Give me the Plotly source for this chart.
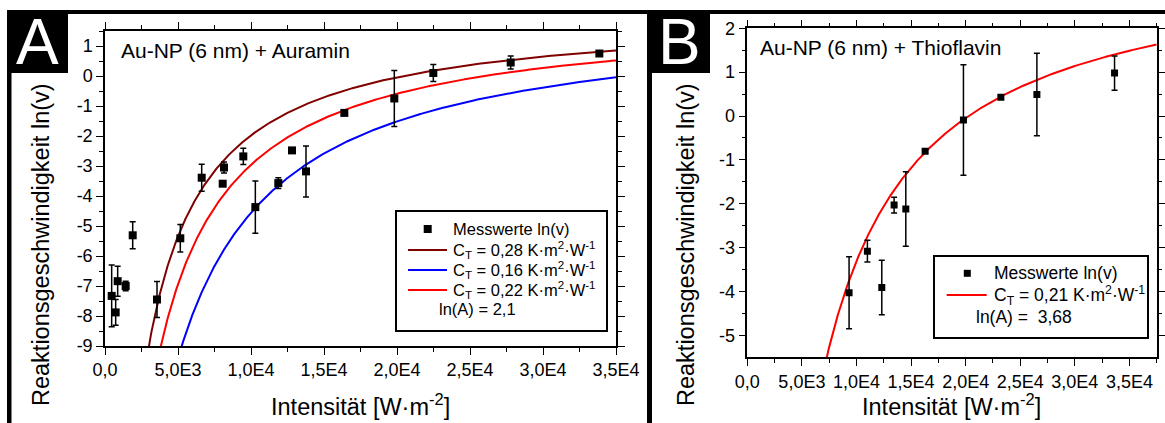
import numpy as np
import plotly.graph_objects as go

W, H = 1165, 423

# ---------------- data ----------------
# Panel A: Au-NP (6 nm) + Auramin
a_x = [457, 731, 868, 1416, 1897, 3562, 5158, 6623, 8061, 8151, 9473, 10297,
       11870, 12808, 13767, 16393, 19816, 22487, 27787, 33859]
a_y = [-7.33, -7.88, -6.84, -7.00, -5.31, -7.45, -5.41, -3.39, -3.59, -3.05, -2.68, -4.37,
       -3.57, -2.48, -3.18, -1.23, -0.75, 0.10, 0.45, 0.75]
a_err = [1.03, 0.43, 0.50, 0.16, 0.45, 0.60, 0.46, 0.45, 0.05, 0.18, 0.27, 0.87,
         0.18, 0.05, 0.85, 0.05, 0.93, 0.28, 0.22, 0.08]

# Panel B: Au-NP (6 nm) + Thioflavin
b_x = [9322, 11000, 12319, 13447, 14519, 16288, 19798, 23226, 26526, 33639]
b_y = [-4.03, -3.08, -3.91, -2.03, -2.12, -0.80, -0.09, 0.43, 0.49, 0.98]
b_err = [0.82, 0.25, 0.62, 0.18, 0.85, 0.05, 1.26, 0.05, 0.94, 0.39]

# fit parameters: ln v = ln(A) - E / (T0 + C_T * I)
T0 = 298.0
a_lnA = 2.1
a_E = 12637.0
a_CT = [0.28, 0.16, 0.22]
a_colors = ["#800000", "#0000FF", "#FF0000"]
a_labels = ["0,28", "0,16", "0,22"]

b_lnA = 3.68
b_E = 16755.0
b_CT = 0.21

x_tickvals = [0, 5000, 10000, 15000, 20000, 25000, 30000, 35000]
x_ticktext = ["0,0", "5,0E3", "1,0E4", "1,5E4", "2,0E4", "2,5E4", "3,0E4", "3,5E4"]
a_ytickvals = list(range(-9, 2))
b_ytickvals = list(range(-5, 3))

FONT = "Arial, Liberation Sans, sans-serif"


def px(x):
    return x / W


def py(y):
    return 1 - y / H


fig = go.Figure()

# ---- Panel A curves ----
ia = np.linspace(0, 35000, 1200)
for ct, col in zip(a_CT, a_colors):
    fig.add_trace(go.Scatter(x=ia, y=a_lnA - a_E / (T0 + ct * ia), mode="lines",
                             line=dict(color=col, width=2), xaxis="x", yaxis="y",
                             hoverinfo="skip"))
fig.add_trace(go.Scatter(x=a_x, y=a_y, mode="markers",
                         marker=dict(symbol="square", size=8, color="black"),
                         error_y=dict(type="data", array=a_err, visible=True,
                                      color="black", thickness=1.5, width=3),
                         xaxis="x", yaxis="y"))

# ---- Panel B ----
ib = np.linspace(0, 37500, 1200)
fig.add_trace(go.Scatter(x=ib, y=b_lnA - b_E / (T0 + b_CT * ib), mode="lines",
                         line=dict(color="#FF0000", width=2), xaxis="x2", yaxis="y2",
                         hoverinfo="skip"))
fig.add_trace(go.Scatter(x=b_x, y=b_y, mode="markers",
                         marker=dict(symbol="square", size=7, color="black"),
                         error_y=dict(type="data", array=b_err, visible=True,
                                      color="black", thickness=1.5, width=3),
                         xaxis="x2", yaxis="y2"))

axis_common = dict(showline=True, linecolor="black", linewidth=1.5, mirror="ticks",
                   ticks="outside", ticklen=7, tickwidth=1.3, tickcolor="black",
                   showgrid=False, zeroline=False, automargin=False,
                   tickfont=dict(family=FONT, size=18, color="black"))

fig.update_layout(
    width=W, height=H, margin=dict(l=0, r=0, t=0, b=0, pad=0),
    paper_bgcolor="white", plot_bgcolor="white", showlegend=False,
    xaxis=dict(domain=[px(105), px(616)], range=[0, 35000], anchor="y",
               tickmode="array", tickvals=x_tickvals, ticktext=x_ticktext,
               minor=dict(tickvals=[2500 + 5000 * k for k in range(7)], ticklen=4,
                          ticks="outside", tickcolor="black", tickwidth=1.3),
               **axis_common),
    yaxis=dict(domain=[py(346), py(31)], range=[-9, 1.5], anchor="x",
               tickmode="array", tickvals=a_ytickvals,
               ticktext=[str(v) for v in a_ytickvals],
               minor=dict(tickvals=[v + 0.5 for v in range(-9, 2)], ticklen=4,
                          ticks="outside", tickcolor="black", tickwidth=1.3),
               **axis_common),
    xaxis2=dict(domain=[px(747.3), px(1156.7)], range=[0, 37500], anchor="y2",
                tickmode="array", tickvals=x_tickvals, ticktext=x_ticktext,
                minor=dict(tickvals=[2500 + 5000 * k for k in range(8)], ticklen=4,
                           ticks="outside", tickcolor="black", tickwidth=1.3),
                **axis_common),
    yaxis2=dict(domain=[py(357.3), py(28.3)], range=[-5.5, 2], anchor="x2",
                tickmode="array", tickvals=b_ytickvals,
                ticktext=[str(v) for v in b_ytickvals],
                minor=dict(tickvals=[v + 0.5 for v in range(-5, 2)], ticklen=4,
                           ticks="outside", tickcolor="black", tickwidth=1.3),
                **axis_common),
)

shapes = []


def rect(x0, y0, x1, y1, fill="black", line_w=0, line_c="black", layer="above"):
    shapes.append(dict(type="rect", xref="paper", yref="paper",
                       x0=px(x0), x1=px(x1), y0=py(y1), y1=py(y0),
                       fillcolor=fill, line=dict(width=line_w, color=line_c),
                       layer=layer))


def hline(x0, x1, y, color, width=2):
    shapes.append(dict(type="line", xref="paper", yref="paper",
                       x0=px(x0), x1=px(x1), y0=py(y), y1=py(y),
                       line=dict(color=color, width=width), layer="above"))


# frame
rect(7, 10, 1165, 14)
rect(7, 10, 68, 73)
rect(7, 10, 11.5, 423)
rect(647, 10, 710, 73)
rect(647, 10, 652, 423)

# legend A
rect(396, 211, 607, 331, fill="white", line_w=2)
rect(423.7, 225, 431.7, 233)
for yy, col in zip([250, 270, 290], a_colors):
    hline(408, 447, yy, col)
# legend B
rect(934, 256, 1148, 338, fill="white", line_w=2)
rect(963.8, 269.8, 970.8, 276.8)
hline(946.7, 986.7, 295, "#FF0000")

anns = []


def text(x, y, s, size, xanchor="left", color="black", angle=0):
    anns.append(dict(x=px(x), y=py(y), xref="paper", yref="paper", text=s,
                     showarrow=False, xanchor=xanchor, yanchor="middle",
                     textangle=angle,
                     font=dict(family=FONT, size=size, color=color)))


text(37.5, 42, "A", 64, "center", "white")
text(679, 42, "B", 64, "center", "white")
text(119, 51, "Au-NP (6 nm) + Auramin", 21)
text(758, 47, "Au-NP (6 nm) + Thioflavin", 21)

# axis titles
xt = "Intensität [W·m<sup>-2</sup>]"
yt = "Reaktionsgeschwindigkeit ln(v)"
text(360, 405, xt, 23.5, "center")
text(952, 405, xt, 23.5, "center")
text(41, 245, yt, 23.5, "center", angle=-90)
text(686, 245, yt, 23.5, "center", angle=-90)

# legend texts A
text(451, 229, "Messwerte ln(v)", 16.5)
for yy, lab in zip([250, 270, 290], a_labels):
    text(451, yy, "C<sub>T</sub> = " + lab + " K·m<sup>2</sup>·W<sup>-1</sup>", 16.5)
text(437, 309, "ln(A) = " + str(a_lnA).replace(".", ","), 16.5)
# legend texts B
text(992, 273.3, "Messwerte ln(v)", 17.5)
text(992, 295, "C<sub>T</sub> = " + str(b_CT).replace(".", ",") + " K·m<sup>2</sup>·W<sup>-1</sup>", 17.5)
text(974, 316.7, "ln(A) =  " + str(b_lnA).replace(".", ","), 17.5)

fig.update_layout(shapes=shapes, annotations=anns)
fig.write_html("out.html", config={"displayModeBar": False},
               post_script="document.body.style.margin='0';document.body.style.overflow='hidden';")
